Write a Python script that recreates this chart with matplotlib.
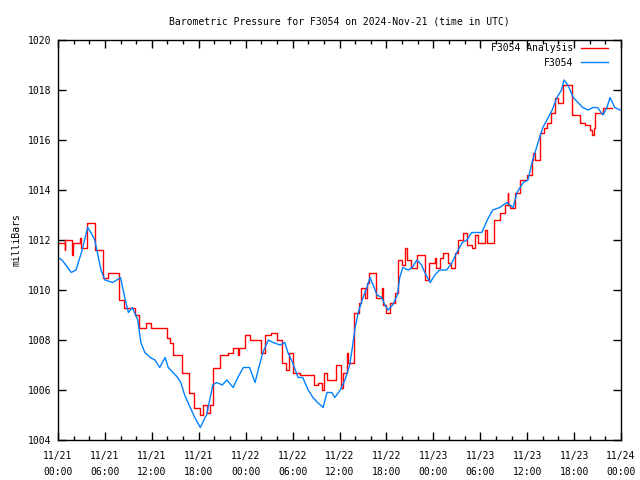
#!/usr/bin/env python3

import matplotlib
matplotlib.use("Agg")
import matplotlib.pyplot as plt

# hours since 2024-11-21 00:00 UTC, pressure in mb
obs_hours = [0, 0.5, 1.0, 1.7, 2.3, 3.0, 3.8, 4.2, 4.7, 5.5, 6.0, 7.0, 8.0, 8.6, 9.0, 9.5,
             10.2, 10.6, 11.1, 11.8, 12.4, 13.0, 13.7, 14.1, 14.7, 15.3, 15.7, 16.2, 16.9,
             17.5, 18.2, 18.8, 19.0, 19.4, 19.8, 20.3, 21.0, 21.6, 22.4, 23.0, 23.7, 24.5,
             25.2, 25.6, 26.2, 26.9, 27.5, 28.4, 29.0, 29.4, 30.0, 30.7, 31.3, 32.0, 32.6,
             33.2, 33.9, 34.4, 35.0, 35.4, 36.1, 36.7, 37.3, 37.6, 38.0, 38.4, 38.9, 39.5,
             39.9, 40.3, 40.8, 41.4, 41.8, 42.2, 42.8, 43.4, 43.7, 44.1, 44.8, 45.3, 45.9,
             46.5, 46.9, 47.6, 48.2, 48.8, 49.7, 50.4, 51.0, 51.7, 52.3, 52.9, 53.6, 54.2,
             54.9, 55.6, 56.5, 57.4, 58.2, 58.7, 59.5, 60.1, 60.7, 61.4, 62.0, 62.7, 63.2,
             63.8, 64.4, 64.7, 65.2, 65.9, 66.5, 67.1, 67.8, 68.4, 69.0, 69.7, 70.2, 70.6,
             71.2, 71.9]
obs_mb = [1011.3, 1011.2, 1011.0, 1010.7, 1010.8, 1011.5, 1012.5, 1012.3, 1012.0, 1010.8,
          1010.4, 1010.3, 1010.5, 1009.6, 1009.1, 1009.3, 1008.8, 1007.9, 1007.5, 1007.3,
          1007.2, 1006.9, 1007.3, 1006.9, 1006.7, 1006.5, 1006.3, 1005.8, 1005.3, 1004.9,
          1004.5, 1004.9, 1005.0, 1005.6, 1006.2, 1006.3, 1006.2, 1006.4, 1006.1, 1006.5,
          1006.9, 1006.9, 1006.3, 1006.8, 1007.5, 1008.0, 1007.9, 1007.8, 1007.9, 1007.5,
          1007.1, 1006.5, 1006.5, 1006.0, 1005.7, 1005.5, 1005.3, 1005.9, 1005.9, 1005.7,
          1006.0, 1006.4, 1007.0, 1007.6, 1008.5, 1009.1, 1009.6, 1010.1, 1010.5, 1010.2,
          1009.8, 1009.7, 1009.4, 1009.2, 1009.4, 1009.8, 1010.5, 1010.9, 1010.8, 1010.9,
          1011.2, 1011.0, 1010.7, 1010.3, 1010.6, 1010.8, 1010.8, 1011.1, 1011.5, 1011.9,
          1012.0, 1012.3, 1012.3, 1012.3, 1012.8, 1013.2, 1013.3, 1013.5, 1013.3, 1013.9,
          1014.3, 1014.4, 1015.2, 1015.9, 1016.5, 1016.9, 1017.2, 1017.7, 1018.0, 1018.4,
          1018.2, 1017.7, 1017.5, 1017.3, 1017.2, 1017.3, 1017.3, 1017.0, 1017.3, 1017.7,
          1017.3, 1017.2]

ana_hours = [0.0, 0.85, 0.95, 1.8, 1.9, 2.8, 3.0, 3.75, 4.7, 5.7, 5.8, 6.4, 7.8, 8.5, 9.9,
             10.4, 11.3, 11.9, 13.9, 14.3, 14.7, 15.8, 16.7, 17.4, 18.1, 18.5, 19.1, 19.4,
             19.8, 20.7, 21.8, 22.4, 23.0, 23.2, 23.9, 24.5, 26.0, 26.5, 27.3, 28.0, 28.7,
             29.1, 29.6, 30.0, 30.9, 32.7, 33.3, 33.8, 34.0, 34.4, 35.6, 36.2, 36.5, 36.9,
             37.1, 37.8, 38.5, 38.8, 39.3, 39.5, 39.8, 40.7, 41.4, 41.6, 42.0, 42.5, 43.1,
             43.5, 44.0, 44.4, 44.6, 45.2, 45.9, 46.9, 47.4, 48.2, 48.4, 48.8, 49.3, 49.9,
             50.3, 50.8, 51.2, 51.8, 52.3, 52.9, 53.3, 53.7, 54.6, 54.8, 55.7, 56.5, 57.2,
             57.5, 57.6, 57.8, 58.4, 59.1, 60.0, 60.6, 60.8, 61.0, 61.6, 62.1, 62.5, 63.0,
             63.6, 64.0, 64.6, 65.7, 66.8, 67.4, 68.0, 68.3, 68.5, 68.7, 69.7, 70.8]
ana_mb = [1011.9, 1011.6, 1012.0, 1011.4, 1011.9, 1012.1, 1011.7, 1012.7, 1011.6, 1011.1,
          1010.5, 1010.7, 1009.6, 1009.3, 1009.0, 1008.5, 1008.7, 1008.5, 1008.1, 1007.9,
          1007.4, 1006.7, 1005.9, 1005.3, 1005.0, 1005.4, 1005.1, 1005.4, 1006.9, 1007.4,
          1007.5, 1007.7, 1007.4, 1007.7, 1008.2, 1008.0, 1007.5, 1008.2, 1008.3, 1008.0,
          1007.1, 1006.8, 1007.5, 1006.7, 1006.6, 1006.2, 1006.3, 1006.0, 1006.7, 1006.4,
          1007.0, 1006.1, 1006.7, 1007.5, 1007.1, 1009.1, 1009.5, 1010.1, 1009.7, 1010.3,
          1010.7, 1009.7, 1010.1, 1009.4, 1009.1, 1009.5, 1009.9, 1011.2, 1011.0, 1011.7,
          1011.2, 1010.9, 1011.4, 1010.4, 1011.1, 1011.3, 1010.9, 1011.3, 1011.5, 1011.1,
          1010.9, 1011.5, 1012.0, 1012.3, 1011.8, 1011.7, 1012.2, 1011.9, 1012.4, 1011.9,
          1012.8, 1013.1, 1013.4, 1013.9, 1013.4, 1013.3, 1013.9, 1014.4, 1014.6, 1015.2,
          1015.5, 1015.2, 1016.3, 1016.5, 1016.7, 1017.1, 1017.7, 1017.5, 1018.2, 1017.0,
          1016.7, 1016.6, 1016.4, 1016.2, 1016.5, 1017.1, 1017.3, 1017.3]

xtick_hours = [6 * i for i in range(13)]
xtick_labels = ["11/21\n00:00", "11/21\n06:00", "11/21\n12:00", "11/21\n18:00",
                "11/22\n00:00", "11/22\n06:00", "11/22\n12:00", "11/22\n18:00",
                "11/23\n00:00", "11/23\n06:00", "11/23\n12:00", "11/23\n18:00",
                "11/24\n00:00"]
ytick_values = [1004 + 2 * i for i in range(9)]

plt.rcParams["font.family"] = ["DejaVu Sans Mono"]
plt.rcParams["font.size"] = 7

fig = plt.figure(figsize=(6.4, 4.8), dpi=100)
ax = fig.add_axes([58 / 640, 40 / 480, 563 / 640, 400 / 480])

ax.plot(ana_hours, ana_mb, color="#ff0000", lw=1.0, drawstyle="steps-post", label="F3054 Analysis")
ax.plot(obs_hours, obs_mb, color="#0080ff", lw=1.0, label="F3054")

ax.set_xlim(0, 72)
ax.set_ylim(1004, 1020)
ax.set_xticks(xtick_hours)
ax.set_xticklabels(xtick_labels, linespacing=1.7)
ax.set_xticks([2 * i for i in range(37)], minor=True)
ax.set_yticks(ytick_values)
ax.set_yticklabels([str(v) for v in ytick_values])
ax.tick_params(which="both", direction="in", top=True, right=True, width=1.0)
ax.tick_params(which="major", length=6)
ax.tick_params(which="minor", length=3)
ax.tick_params(axis="x", which="both", pad=8)
ax.tick_params(axis="y", pad=5)
for s in ax.spines.values():
    s.set_linewidth(1.0)

ax.set_ylabel("milliBars", labelpad=4)
ax.set_title("Barometric Pressure for F3054 on 2024-Nov-21 (time in UTC)", fontsize=7, pad=11)

ax.legend(loc="upper right", bbox_to_anchor=(1 - 10 / 563, 1), frameon=False,
          markerfirst=False, handlelength=2.8, handletextpad=0.8, labelspacing=0.5,
          borderaxespad=0.1, borderpad=0.2)

plt.savefig("out.png", dpi=100)
